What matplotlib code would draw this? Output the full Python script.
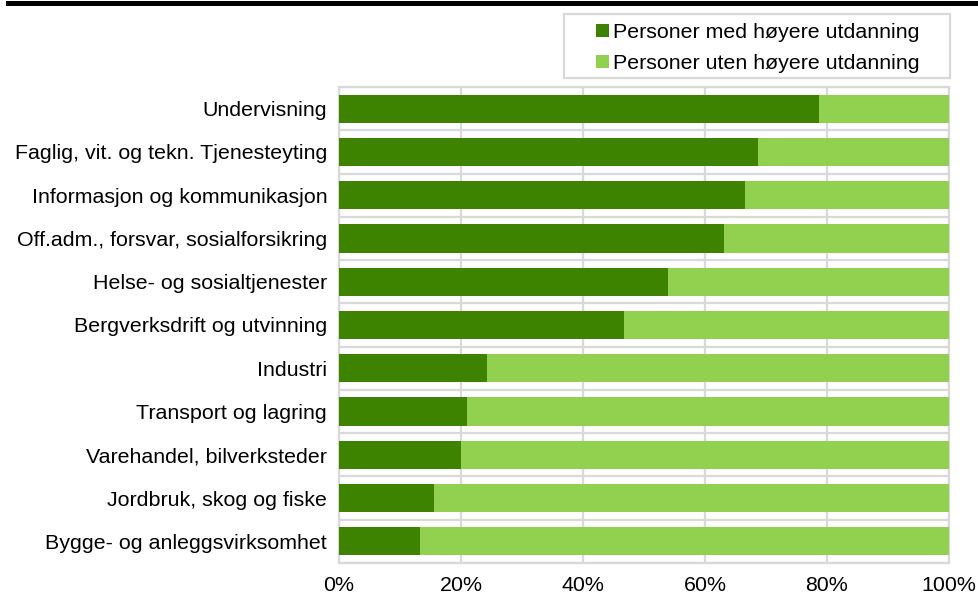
import matplotlib
matplotlib.use("Agg")
import matplotlib.pyplot as plt
from matplotlib.lines import Line2D
from matplotlib.patches import Rectangle

categories = [
    "Undervisning",
    "Faglig, vit. og tekn. Tjenesteyting",
    "Informasjon og kommunikasjon",
    "Off.adm., forsvar, sosialforsikring",
    "Helse- og sosialtjenester",
    "Bergverksdrift og utvinning",
    "Industri",
    "Transport og lagring",
    "Varehandel, bilverksteder",
    "Jordbruk, skog og fiske",
    "Bygge- og anleggsvirksomhet",
]
med_hoyere = [78.7, 68.7, 66.6, 63.1, 53.9, 46.7, 24.3, 21.0, 20.0, 15.5, 13.3]
uten_hoyere = [100 - v for v in med_hoyere]
xticks = [0, 20, 40, 60, 80, 100]
xticklabels = ["0%", "20%", "40%", "60%", "80%", "100%"]
series_names = ["Personer med høyere utdanning", "Personer uten høyere utdanning"]

dark = "#3e8300"
light = "#92d050"
grid = "#d9d9d9"

plt.rcParams["font.family"] = ["Liberation Sans", "DejaVu Sans"]
fs = 15.4

W, H = 979, 599
fig = plt.figure(figsize=(W / 100, H / 100), dpi=100)
ax = fig.add_axes([339 / W, 1 - 563 / H, (949 - 339) / W, (563 - 87) / H])

y = list(range(len(categories)))
h = 0.65
ax.barh(y, med_hoyere, height=h, color=dark, zorder=3, label=series_names[0])
ax.barh(y, uten_hoyere, left=med_hoyere, height=h, color=light, zorder=3, label=series_names[1])

ax.set_xlim(0, 100)
ax.set_ylim(len(categories) - 0.5, -0.5)
ax.set_xticks(xticks)
ax.set_xticklabels(xticklabels, fontsize=fs)
ax.set_yticks(y)
ax.set_yticklabels(categories, fontsize=fs)
ax.tick_params(axis="x", length=0, pad=9.5)
ax.tick_params(axis="y", length=0, pad=8.5)

for xv in xticks:
    ax.axvline(xv, color=grid, lw=1.6, zorder=1)
for i in range(len(categories) + 1):
    ax.axhline(i - 0.5, color=grid, lw=1.6, zorder=1)
for s in ax.spines.values():
    s.set_color(grid)
    s.set_linewidth(1.6)

fig.add_artist(Line2D([0.008, 1.0], [0.9955, 0.9955], transform=fig.transFigure,
                      color="black", lw=3.6))

fig.add_artist(Rectangle((564 / W, 1 - 78 / H), (950 - 564) / W, (78 - 14) / H,
                         transform=fig.transFigure, facecolor="white",
                         edgecolor=grid, lw=1.6, zorder=-5))

leg = ax.legend(loc="center left", bbox_to_anchor=(596 / W, 1 - 48 / H),
                bbox_transform=fig.transFigure, borderaxespad=0, fontsize=fs,
                handlelength=0.6, handleheight=0.6, handletextpad=0.2,
                frameon=False, labelspacing=0.55, borderpad=0)

fig.savefig("out.png", dpi=100)
